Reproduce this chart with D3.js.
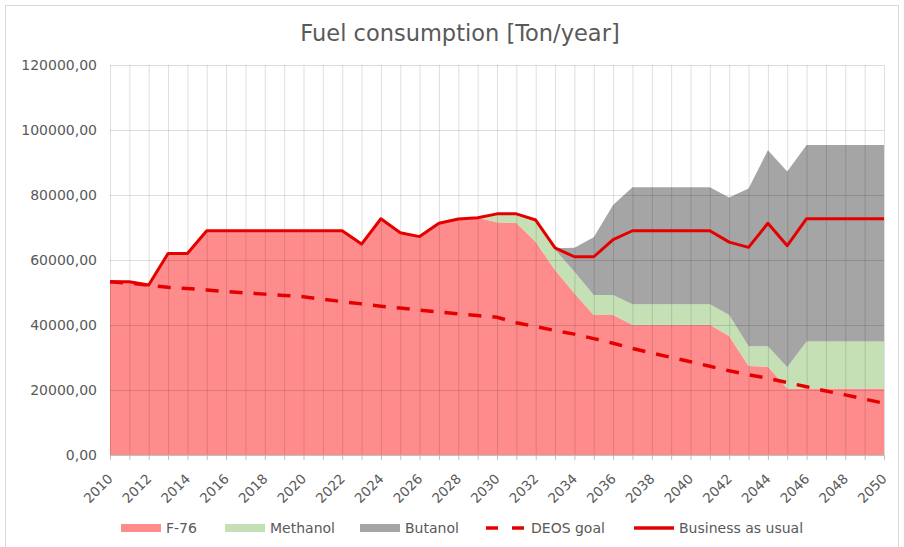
<!DOCTYPE html>
<html lang="en">
<head>
    <meta charset="UTF-8">
    <title>Fuel consumption</title>
    <script src="https://d3js.org/d3.v7.min.js"></script>
    <style>
        body {
            margin: 0;
            padding: 0;
            background: #fff;
        }
        text {
            font-family: "DejaVu Sans", Verdana, sans-serif;
            fill: #595959;
        }
    </style>
</head>
<body>
    <svg width="904" height="547"></svg>
    <script>
        // years 2010..2050
        const years = d3.range(2010, 2051);

        const f76 = [53300, 53300, 52300, 62000, 62000, 69000, 69000, 69000, 69000, 69000,
                     69000, 69000, 69000, 64900, 72700, 68400, 67200, 71300, 72600, 73000,
                     71600, 71400, 65600, 56900, 49800, 43100, 43100, 40100, 40100, 40100,
                     40100, 40100, 36600, 27400, 27200, 20500, 20500, 20500, 20500, 20500, 20500];

        const methanol = [0, 0, 0, 0, 0, 0, 0, 0, 0, 0,
                          0, 0, 0, 0, 0, 0, 0, 0, 0, 0,
                          2400, 2800, 6300, 6300, 6600, 6100, 6100, 6300, 6300, 6300,
                          6300, 6300, 6500, 6100, 6300, 6500, 14400, 14400, 14400, 14400, 14400];

        const butanol = [0, 0, 0, 0, 0, 0, 0, 0, 0, 0,
                         0, 0, 0, 0, 0, 0, 0, 0, 0, 0,
                         0, 0, 0, 400, 7400, 17800, 27700, 36000, 36000, 36000,
                         36000, 36000, 36100, 48500, 60300, 60200, 60500, 60500, 60500, 60500, 60500];

        const deosGoal = [53300, 52900, 52200, 51600, 51200, 50800, 50300, 49900, 49500, 49100,
                          48700, 47900, 47200, 46500, 45800, 45200, 44600, 44000, 43400, 42900,
                          42400, 40700, 39500, 38300, 37200, 35800, 34400, 32800, 31400, 30000,
                          28700, 27300, 25900, 24700, 23600, 22300, 21000, 19700, 18500, 17200, 15900];

        const businessAsUsual = [53300, 53300, 52300, 62000, 62000, 69000, 69000, 69000, 69000, 69000,
                                 69000, 69000, 69000, 64900, 72700, 68400, 67200, 71300, 72600, 73000,
                                 74200, 74200, 72300, 63700, 61000, 61000, 66300, 69000, 69000, 69000,
                                 69000, 69000, 65500, 63900, 71300, 64400, 72700, 72700, 72700, 72700, 72700];

        const yTicks = [0, 20000, 40000, 60000, 80000, 100000, 120000];
        const xLabelYears = d3.range(2010, 2051, 2);

        const seriesNames = ["F-76", "Methanol", "Butanol"];
        const seriesColors = ["#ff8c8c", "#c5e0b4", "#a5a5a5"];
        const lineColor = "#e50000";

        const svg = d3.select("svg");

        // chart frame
        svg.append("rect")
            .attr("x", 5.5).attr("y", 5.5)
            .attr("width", 893).attr("height", 560)
            .attr("fill", "none")
            .attr("stroke", "#d9d9d9");

        const margin = {left: 110, right: 20, top: 65, bottom: 92};
        const width = 904 - margin.left - margin.right;
        const height = 547 - margin.top - margin.bottom;

        const x = d3.scaleLinear().domain([2010, 2050]).range([0, width]);
        const y = d3.scaleLinear().domain([0, 120000]).range([height, 0]);

        const g = svg.append("g").attr("transform", `translate(${margin.left},${margin.top})`);

        // stacked areas
        const table = years.map((yr, i) => ({
            year: yr,
            "F-76": f76[i],
            "Methanol": methanol[i],
            "Butanol": butanol[i]
        }));
        const stacked = d3.stack().keys(seriesNames)(table);

        const area = d3.area()
            .x(d => x(d.data.year))
            .y0(d => y(d[0]))
            .y1(d => y(d[1]));

        g.append("g")
            .selectAll("path")
            .data(stacked)
            .join("path")
            .attr("fill", (d, i) => seriesColors[i])
            .attr("d", area);

        // gridlines drawn over the fill (the original shows them through it)
        g.append("g")
            .attr("class", "grid-x")
            .call(d3.axisBottom(x).tickValues(years).tickSize(-height).tickFormat(""))
            .attr("transform", `translate(0,${height})`)
            .call(a => a.select(".domain").remove())
            .selectAll("line")
            .attr("stroke", "rgba(0,0,0,0.13)");

        g.append("g")
            .attr("class", "grid-y")
            .call(d3.axisLeft(y).tickValues(yTicks).tickSize(-width).tickFormat(""))
            .call(a => a.select(".domain").remove())
            .selectAll("line")
            .attr("stroke", "rgba(0,0,0,0.13)");

        // lines
        const line = d3.line()
            .x((d, i) => x(years[i]))
            .y(d => y(d));

        g.append("path")
            .datum(deosGoal)
            .attr("fill", "none")
            .attr("stroke", lineColor)
            .attr("stroke-width", 3.5)
            .attr("stroke-dasharray", "13,11")
            .attr("d", line);

        g.append("path")
            .datum(businessAsUsual)
            .attr("fill", "none")
            .attr("stroke", lineColor)
            .attr("stroke-width", 3)
            .attr("stroke-linejoin", "round")
            .attr("d", line);

        // x axis
        const xAxis = g.append("g")
            .attr("transform", `translate(0,${height})`)
            .call(d3.axisBottom(x).tickValues(years).tickSize(5).tickFormat(""));
        xAxis.select(".domain").attr("stroke", "#bfbfbf");
        xAxis.selectAll("line").attr("stroke", "#bfbfbf");

        g.append("g")
            .selectAll("text")
            .data(xLabelYears)
            .join("text")
            .attr("transform", d => `translate(${x(d) - 3},${height + 18}) rotate(-45)`)
            .attr("text-anchor", "end")
            .attr("dy", "0.7em")
            .style("font-size", "13.5px")
            .text(d => d);

        // y axis labels
        const fmt = v => d3.format(".2f")(v).replace(".", ",");
        g.append("g")
            .selectAll("text")
            .data(yTicks)
            .join("text")
            .attr("x", -13)
            .attr("y", d => y(d))
            .attr("dy", "0.35em")
            .attr("text-anchor", "end")
            .style("font-size", "14px")
            .text(fmt);

        // title
        svg.append("text")
            .attr("x", 460)
            .attr("y", 41)
            .attr("text-anchor", "middle")
            .style("font-size", "22.5px")
            .text("Fuel consumption [Ton/year]");

        // legend
        const legendItems = [
            {name: "F-76", type: "rect", color: seriesColors[0], x: 121},
            {name: "Methanol", type: "rect", color: seriesColors[1], x: 225},
            {name: "Butanol", type: "rect", color: seriesColors[2], x: 360},
            {name: "DEOS goal", type: "dash", color: lineColor, x: 486},
            {name: "Business as usual", type: "line", color: lineColor, x: 634}
        ];
        const legendY = 528;
        const leg = svg.append("g")
            .selectAll("g")
            .data(legendItems)
            .join("g")
            .attr("transform", d => `translate(${d.x},${legendY})`);

        leg.filter(d => d.type === "rect")
            .append("rect")
            .attr("x", 0).attr("y", -4)
            .attr("width", 40).attr("height", 8)
            .attr("fill", d => d.color);

        leg.filter(d => d.type !== "rect")
            .append("line")
            .attr("x1", 0).attr("x2", 40)
            .attr("y1", 0).attr("y2", 0)
            .attr("stroke", d => d.color)
            .attr("stroke-width", 3.5)
            .attr("stroke-dasharray", d => d.type === "dash" ? "12,14" : null);

        leg.append("text")
            .attr("x", 45)
            .attr("y", 0)
            .attr("dy", "0.35em")
            .style("font-size", "14px")
            .text(d => d.name);
    </script>
</body>
</html>
